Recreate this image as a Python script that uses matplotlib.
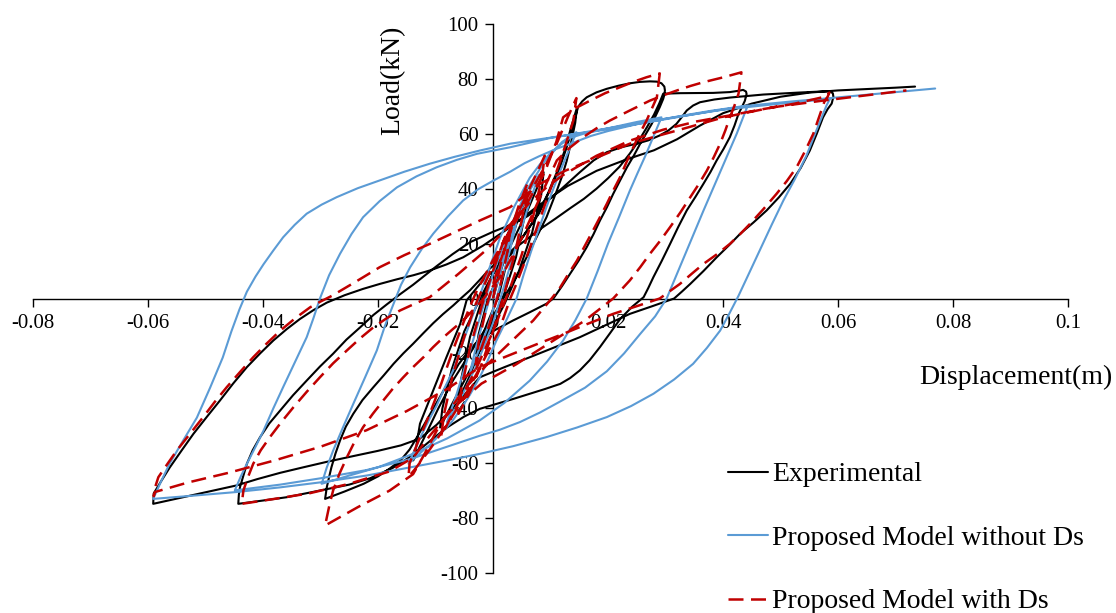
import matplotlib
matplotlib.use("Agg")
import matplotlib.pyplot as plt
import numpy as np

# ---------------- data (displacement m, load kN) ----------------
series_names = ["Experimental", "Proposed Model without Ds", "Proposed Model with Ds"]

experimental = [
    # small cycles
    (0.0, 0), (0.0015, 11), (0.003, 21), (0.0025, 14), (0.001, 1), (-0.001, -9), (-0.003, -20),
    (-0.0025, -13), (-0.001, -1), (0.001, 9), (0.003, 20), (0.0045, 30), (0.006, 38),
    (0.0055, 30), (0.004, 15), (0.002, 2), (0.0, -8), (-0.002, -17), (-0.004, -28), (-0.006, -37),
    (-0.0055, -29), (-0.004, -14), (-0.002, -1), (0.0, 9), (0.003, 19), (0.006, 32), (0.0088, 46),
    (0.0084, 38), (0.0068, 24), (0.0045, 10), (0.002, -2), (-0.001, -14), (-0.0045, -28),
    (-0.0075, -40), (-0.0092, -47), (-0.0088, -40), (-0.0072, -26), (-0.005, -12), (-0.002, 1),
    (0.0, 9),
    # cycle 0.0145
    (0.0035, 17), (0.0076, 30), (0.0095, 38), (0.0111, 46), (0.0124, 53.5), (0.0134, 61), (0.0146, 69.5),
    (0.0143, 64), (0.0136, 57), (0.0128, 50), (0.012, 44.5), (0.0111, 39.3), (0.0093, 29.6), (0.007, 19.9),
    (0.0047, 10.2), (0.0018, 0), (-0.001, -10), (-0.004, -20), (-0.007, -30), (-0.0095, -40),
    (-0.0118, -50), (-0.0139, -59),
    # reload to the 0.029 hump
    (-0.0136, -57), (-0.0127, -45.6), (-0.0104, -33.5), (-0.0081, -21.4), (-0.0057, -9.2), (-0.0046, -0.7),
    (-0.002, 6), (0.0005, 11), (0.004, 19), (0.008, 31), (0.0098, 39), (0.0115, 47), (0.0128, 55),
    (0.0138, 62), (0.0148, 69.8), (0.0155, 71.8), (0.0163, 73.3), (0.018, 75.1), (0.0198, 76.4),
    (0.0218, 77.5), (0.0238, 78.4), (0.0255, 78.9), (0.0273, 79.1), (0.0285, 79), (0.0293, 78.4),
    (0.0298, 77.2), (0.0299, 75.8), (0.0298, 74.2), (0.0296, 72.7), (0.029, 69.7),
    # unload from 0.029
    (0.0283, 66.6), (0.0276, 63.6), (0.0266, 60), (0.0256, 56.4), (0.0245, 52.1), (0.0233, 47.8),
    (0.0221, 43), (0.0209, 38.1), (0.0198, 33.2), (0.0186, 28.4), (0.0175, 23.5), (0.0163, 18.7),
    (0.0149, 13.8), (0.0134, 9), (0.012, 4.5), (0.0105, 0), (0.0093, -1.9), (0.0064, -5), (0.0035, -8),
    (0.0006, -11.2), (-0.0023, -14.7), (-0.0042, -19), (-0.006, -24), (-0.0075, -29.5), (-0.009, -35),
    (-0.0105, -40.5), (-0.012, -46), (-0.0133, -50.8), (-0.0145, -55), (-0.016, -58.8), (-0.018, -62),
    (-0.02, -64.8), (-0.0225, -67.5), (-0.0258, -70.3), (-0.0292, -73),
    # reload from -0.029 toward 0.044
    (-0.0289, -68.7), (-0.0285, -65), (-0.0281, -61.5), (-0.0274, -56.5), (-0.0266, -51.7),
    (-0.0256, -46.7), (-0.0243, -42), (-0.0227, -37), (-0.0208, -32.3), (-0.019, -28), (-0.0173, -23.8),
    (-0.0156, -20), (-0.0139, -16.5), (-0.0121, -12.6), (-0.0104, -9), (-0.0087, -5.7), (-0.0069, -2.5),
    (-0.0055, 0.2), (-0.004, 3), (-0.0022, 7), (-0.0005, 11), (0.003, 17), (0.0055, 21), (0.008, 25),
    (0.0108, 29), (0.0135, 33), (0.0158, 36.3), (0.018, 40), (0.02, 43.8), (0.022, 48), (0.0238, 52.8),
    (0.0255, 58), (0.0268, 62.5), (0.028, 67), (0.0289, 71), (0.0296, 74.6), (0.0325, 74.8),
    (0.0383, 74.9), (0.0412, 75.2), (0.0428, 75.7), (0.0435, 76), (0.044, 75.4), (0.0441, 74.5),
    (0.0438, 72),
    # unload from 0.044
    (0.0433, 69.8), (0.0427, 67.3), (0.042, 63), (0.0412, 58.8), (0.0401, 54.5), (0.0389, 50.3),
    (0.0378, 46), (0.0366, 41.8), (0.0352, 37), (0.0337, 32.1), (0.0322, 26), (0.0308, 19.9),
    (0.0293, 13.5), (0.0279, 7.8), (0.027, 3.8), (0.0262, 0.5), (0.0242, -3), (0.0221, -7.5),
    (0.0204, -12.5), (0.0186, -17.7), (0.0168, -22.5), (0.0151, -26.2), (0.0134, -29), (0.0117, -31.1),
    (0.009, -33), (0.0064, -34.7), (0.0035, -36.6), (0.0006, -38.4), (-0.0023, -40.2), (-0.005, -43),
    (-0.008, -47), (-0.011, -52), (-0.0139, -57), (-0.0175, -61.8), (-0.0214, -65.5), (-0.025, -67.8),
    (-0.029, -69.5), (-0.0325, -71), (-0.0359, -72.4), (-0.04, -73.6), (-0.0443, -74.8),
    # reload from -0.044 toward 0.059
    (-0.0442, -71.5), (-0.044, -68.7), (-0.0434, -64.5), (-0.0428, -60.2), (-0.0418, -55.3),
    (-0.0405, -50.5), (-0.0389, -45.5), (-0.037, -40.8), (-0.0348, -35.3), (-0.0324, -29.9),
    (-0.0301, -24.8), (-0.0278, -20.1), (-0.0255, -15), (-0.0231, -10.5), (-0.0208, -6), (-0.0185, -2.2),
    (-0.0162, 1.5), (-0.0139, 5), (-0.0118, 8.5), (-0.0098, 11.8), (-0.007, 16.2), (-0.004, 20.5),
    (0.0, 24.3), (0.0035, 27.2), (0.006, 30), (0.0082, 33.3), (0.0102, 36.8), (0.0122, 40.5),
    (0.0151, 46), (0.0175, 50.3), (0.0198, 53.3), (0.0225, 55.2), (0.025, 56.4), (0.027, 57.6),
    (0.029, 59.4), (0.0305, 61.2), (0.0319, 63.6), (0.0328, 66), (0.0337, 68.5), (0.0348, 70.3),
    (0.036, 71.5), (0.0385, 72.5), (0.0412, 73.2), (0.047, 74.3), (0.053, 75), (0.057, 75.4),
    (0.0585, 75.5), (0.0591, 74.8), (0.0592, 73.5), (0.0589, 71),
    # unload from 0.059
    (0.0582, 69), (0.0574, 66), (0.0563, 60), (0.0551, 53.9), (0.0535, 47.5), (0.0517, 41.8),
    (0.0497, 36.8), (0.0476, 32.1), (0.0453, 27.7), (0.043, 23.6), (0.041, 19.3), (0.0389, 15),
    (0.0366, 10), (0.0343, 5.3), (0.0329, 2.6), (0.0315, 0), (0.0277, -2.8), (0.0238, -5.6),
    (0.0195, -9.8), (0.0151, -14.1), (0.0108, -17.7), (0.0064, -21.4), (0.002, -25), (-0.0023, -28.7),
    (-0.0045, -34), (-0.007, -40), (-0.0098, -46), (-0.0127, -51), (-0.016, -53.5), (-0.02, -55.5),
    (-0.0245, -57.5), (-0.0289, -59.5), (-0.033, -61.5), (-0.037, -63.5), (-0.041, -65.8),
    (-0.0446, -68.1), (-0.0485, -69.9), (-0.052, -71.5), (-0.0557, -73.2), (-0.0591, -74.8),
    # final reload
    (-0.059, -71), (-0.0577, -66.5), (-0.0562, -61.5), (-0.0542, -55.5), (-0.0521, -49.3),
    (-0.0498, -43.2), (-0.0475, -37.2), (-0.0452, -31), (-0.0428, -25), (-0.0405, -20), (-0.0382, -15.3),
    (-0.0359, -11.2), (-0.0336, -7.5), (-0.0312, -4.2), (-0.0289, -1.5), (-0.0258, 1.2), (-0.0226, 3.5),
    (-0.0197, 5.3), (-0.0167, 7), (-0.0138, 8.5), (-0.011, 10.2), (-0.0081, 12.4), (-0.0052, 15),
    (-0.0017, 19.3), (0.003, 26), (0.008, 34), (0.013, 41), (0.018, 46.5), (0.023, 50.5), (0.028, 54),
    (0.032, 58), (0.036, 63), (0.04, 67.5), (0.045, 71), (0.05, 73.5), (0.055, 75), (0.06, 75.8),
    (0.065, 76.3), (0.07, 76.8), (0.0734, 77.2),
]

model_without_ds = [
    # small cycles
    (0.0, 0), (0.002, 15), (0.004, 27), (0.003, 18), (0.001, 3), (-0.001, -11), (-0.004, -27),
    (-0.003, -18), (-0.001, -3), (0.001, 11), (0.004, 28), (0.006, 38), (0.008, 45),
    (0.0065, 36), (0.004, 19), (0.002, 5), (0.0, -9), (-0.003, -25), (-0.006, -38), (-0.008, -45),
    (-0.0065, -36), (-0.004, -19), (-0.002, -5), (0.0, 9), (0.003, 26), (0.006, 40), (0.009, 50),
    (0.012, 57), (0.0145, 60.6),
    # unload 0.0145
    (0.0132, 54), (0.0118, 47), (0.0105, 40), (0.0093, 33.3), (0.008, 25.5), (0.0066, 17), (0.0053, 8.5),
    (0.0041, 0), (0.0023, -8), (0.0006, -15.3), (-0.0009, -22.5), (-0.0023, -28.7), (-0.004, -35),
    (-0.0055, -40), (-0.0072, -45), (-0.009, -49), (-0.0108, -53), (-0.0125, -56), (-0.0147, -60.2),
    # reload to 0.029
    (-0.0137, -55.5), (-0.0125, -50), (-0.0112, -44.5), (-0.0098, -39), (-0.0084, -32.5), (-0.0069, -26),
    (-0.0049, -14), (-0.0028, -2), (-0.0008, 10), (0.0012, 22), (0.0037, 33.5), (0.0064, 44),
    (0.0082, 49), (0.010, 53), (0.0117, 56), (0.0134, 58.5), (0.0165, 60.5), (0.02, 62), (0.025, 64.3),
    (0.0293, 66),
    # unload 0.029
    (0.0279, 59), (0.0265, 52), (0.0251, 45.5), (0.0238, 39.3), (0.0219, 29.5), (0.02, 20), (0.0182, 10),
    (0.0163, 0), (0.0143, -8), (0.0122, -15.3), (0.0094, -23), (0.0064, -29.9), (0.002, -38),
    (-0.0023, -44.4), (-0.008, -51), (-0.0144, -57), (-0.02, -61.5), (-0.025, -64.5), (-0.0298, -67.5),
    # reload to 0.044
    (-0.0289, -61.5), (-0.0278, -55.4), (-0.0261, -47), (-0.0243, -38.4), (-0.0222, -28.5),
    (-0.0202, -18.9), (-0.0188, -10), (-0.0173, -2), (-0.016, 5), (-0.0144, 11.4), (-0.0124, 18),
    (-0.0104, 23.6), (-0.0078, 30), (-0.0052, 35.7), (-0.0026, 39.8), (0.0001, 43), (0.003, 46.2),
    (0.0055, 49.3), (0.008, 51.8), (0.011, 54.5), (0.014, 56.8), (0.017, 59.2), (0.02, 61),
    (0.025, 63.5), (0.03, 65.5), (0.034, 67), (0.038, 68.4), (0.0443, 70.3),
    # unload 0.044
    (0.0424, 60.1), (0.0395, 46), (0.0366, 32), (0.0334, 16), (0.0302, 0), (0.0282, -6.5),
    (0.0256, -12.9), (0.0228, -20), (0.0198, -26.5), (0.016, -32.5), (0.0117, -37.5), (0.0082, -41.5),
    (0.0047, -45), (0.0012, -47.8), (-0.0023, -50), (-0.008, -54), (-0.0144, -58.5), (-0.022, -62.5),
    (-0.03, -65.5), (-0.037, -67.8), (-0.0449, -69.9),
    # reload to 0.059
    (-0.0439, -65), (-0.0428, -60.2), (-0.0413, -54), (-0.0399, -48.1), (-0.0382, -40), (-0.0365, -32.3),
    (-0.0344, -23), (-0.0324, -14.1), (-0.0312, -7), (-0.0301, 0), (-0.0285, 8.5), (-0.0266, 16.3),
    (-0.0246, 23.5), (-0.0226, 29.6), (-0.0197, 35.5), (-0.0167, 40.5), (-0.0133, 44.5),
    (-0.0098, 47.8), (-0.0063, 50.5), (-0.0028, 52.7), (0.003, 55.1), (0.01, 58.5), (0.02, 62),
    (0.03, 65.5), (0.04, 68.8), (0.05, 71), (0.0586, 72.7),
    # unload 0.059
    (0.058, 70.3), (0.0562, 61), (0.0545, 52), (0.0525, 43.5), (0.0505, 35.7), (0.0485, 27),
    (0.0465, 18), (0.0446, 9.5), (0.0427, 1), (0.0411, -5.5), (0.0395, -11.7), (0.0372, -18),
    (0.0348, -23.8), (0.0315, -29.5), (0.0279, -34.7), (0.024, -39.2), (0.0198, -43.2), (0.0146, -47),
    (0.0093, -50.5), (0.0035, -53.8), (-0.0023, -56.6), (-0.008, -59), (-0.0144, -61.5), (-0.022, -64.5),
    (-0.0301, -67), (-0.037, -68.8), (-0.0446, -70.5), (-0.052, -71.8), (-0.0591, -73),
    # final loading
    (-0.0577, -66.5), (-0.0562, -60), (-0.0539, -51.8), (-0.0515, -43.4), (-0.0492, -32.5),
    (-0.047, -21.5), (-0.0455, -12), (-0.0441, -4), (-0.0428, 2.5), (-0.0413, 8), (-0.0399, 12.5),
    (-0.0382, 17.5), (-0.0365, 22.3), (-0.0345, 26.8), (-0.0324, 30.9), (-0.0298, 34.2),
    (-0.0272, 36.9), (-0.0235, 40.2), (-0.0197, 43), (-0.0154, 46.2), (-0.011, 49.1), (-0.0067, 51.6),
    (-0.0023, 53.9), (0.003, 56.4), (0.01, 58.6), (0.0186, 61.2), (0.025, 63.5), (0.032, 66),
    (0.038, 68.2), (0.0447, 70.3), (0.052, 71.8), (0.0586, 73), (0.0769, 76.5),
]

model_with_ds = [
    # small cycles
    (0.0, 0), (0.0015, 14), (0.003, 25), (0.0025, 17), (0.001, 2), (-0.001, -12), (-0.003, -24),
    (-0.0025, -16), (-0.001, -2), (0.001, 12), (0.003, 24), (0.0045, 34), (0.006, 42),
    (0.0055, 34), (0.004, 18), (0.002, 2), (0.0, -12), (-0.002, -24), (-0.004, -34), (-0.006, -42),
    (-0.0055, -33), (-0.004, -18), (-0.002, -3), (0.0, 10), (0.002, 22), (0.005, 34), (0.009, 52),
    (0.0085, 44), (0.007, 30), (0.005, 16), (0.003, 4), (0.0, -12), (-0.003, -26), (-0.006, -38),
    (-0.009, -50), (-0.0085, -42), (-0.007, -28), (-0.005, -14), (-0.003, -2), (0.0, 12), (0.003, 25),
    (0.006, 37), (0.009, 48), (0.011, 56), (0.013, 66), (0.0145, 73),
    # unload 0.0145
    (0.014, 65), (0.012, 52), (0.01, 40), (0.008, 28), (0.006, 16), (0.004, 5), (0.003, 0),
    (0.001, -12), (-0.002, -24), (-0.005, -36), (-0.008, -46), (-0.011, -55), (-0.0135, -62),
    (-0.0147, -65),
    # reload to 0.029
    (-0.0145, -60), (-0.013, -52), (-0.011, -42), (-0.009, -31), (-0.007, -19), (-0.005, -8),
    (-0.003, 2), (0.0, 14), (0.003, 25), (0.006, 35), (0.009, 46), (0.011, 57), (0.0122, 66),
    (0.0145, 69.5), (0.0169, 72.1), (0.0195, 74.8), (0.0221, 77), (0.0245, 79), (0.0267, 80.6),
    (0.029, 82),
    # unload 0.029
    (0.0285, 73.3), (0.0276, 69), (0.0267, 64.8), (0.0255, 60), (0.0244, 55.1), (0.0232, 49.6),
    (0.0221, 44.2), (0.0209, 39.3), (0.0198, 34.5), (0.0186, 29.6), (0.0174, 24.8), (0.016, 19.3),
    (0.0146, 13.8), (0.0131, 8.9), (0.0117, 4.1), (0.0102, 0), (0.007, -8), (0.003, -16),
    (-0.001, -24), (-0.005, -33), (-0.009, -45), (-0.012, -57), (-0.0139, -64), (-0.018, -70),
    (-0.0235, -76), (-0.0292, -82.7),
    # reload to 0.044
    (-0.0289, -79.7), (-0.0284, -74.8), (-0.0278, -69.9), (-0.0267, -63.8), (-0.0254, -57.8),
    (-0.0241, -52.3), (-0.0226, -46.9), (-0.0209, -42), (-0.0191, -37.2), (-0.0174, -32.8),
    (-0.0156, -28.7), (-0.0139, -25), (-0.0121, -21.4), (-0.0104, -17.7), (-0.0086, -14.1),
    (-0.0069, -11), (-0.0052, -8), (-0.002, -1), (0.002, 10), (0.005, 22), (0.008, 36), (0.0111, 50.3),
    (0.0134, 55), (0.0157, 58.8), (0.018, 62), (0.0203, 64.8), (0.0238, 68.5), (0.0273, 72.1),
    (0.0296, 74), (0.032, 75.8), (0.0343, 77.4), (0.0366, 78.8), (0.0401, 80.6), (0.0432, 82.4),
    # unload 0.044
    (0.0427, 74.6), (0.042, 70.3), (0.0412, 66), (0.0404, 61.2), (0.0395, 56.4), (0.0384, 51.5),
    (0.0372, 46.6), (0.0358, 41.7), (0.0343, 36.9), (0.0326, 31.4), (0.0308, 26), (0.0291, 21.1),
    (0.0273, 16.3), (0.0256, 11.4), (0.0238, 6.6), (0.0209, 0), (0.016, -8), (0.01, -16), (0.004, -24),
    (-0.002, -31), (-0.007, -40), (-0.011, -50), (-0.0139, -58), (-0.018, -63), (-0.025, -67.5),
    (-0.032, -71), (-0.038, -73), (-0.0437, -74.8),
    # reload to 0.059
    (-0.0434, -69.9), (-0.0426, -65), (-0.0417, -60.2), (-0.0404, -55.3), (-0.0388, -50.5),
    (-0.0368, -45), (-0.0347, -39.6), (-0.0324, -34), (-0.0301, -28.7), (-0.0278, -23.6),
    (-0.0254, -18.9), (-0.0231, -14.5), (-0.0208, -10.5), (-0.0185, -7.2), (-0.0162, -4.4),
    (-0.0136, -1.9), (-0.011, 0.5), (-0.006, 9), (-0.001, 18), (0.003, 27), (0.0064, 35), (0.0093, 40.5),
    (0.0122, 45), (0.018, 52), (0.0238, 57.5), (0.0296, 61.5), (0.0354, 64.5), (0.0412, 66.7),
    (0.047, 69), (0.0525, 71), (0.0577, 73.5), (0.0585, 75),
    # unload 0.059
    (0.0582, 73.5), (0.0577, 72.1), (0.0567, 66), (0.0557, 60), (0.0543, 53.8), (0.0528, 47.8),
    (0.0511, 42.8), (0.0493, 38.1), (0.047, 32.5), (0.0447, 27.2), (0.043, 23.5), (0.0412, 19.9),
    (0.039, 16.2), (0.0366, 12.6), (0.0345, 8.9), (0.0325, 5.3), (0.0307, 2.6), (0.029, 0),
    (0.025, -2.8), (0.0209, -5.6), (0.0165, -9.2), (0.0122, -12.9), (0.0078, -16.5), (0.0035, -20.1),
    (-0.0023, -25), (-0.008, -33), (-0.015, -41), (-0.022, -48), (-0.03, -54), (-0.038, -59),
    (-0.046, -63.5), (-0.053, -67), (-0.0588, -70.5), (-0.059, -72),
    # final loading
    (-0.0588, -69), (-0.0582, -65.1), (-0.0566, -60.2), (-0.055, -55.4), (-0.0527, -49.3),
    (-0.0504, -43.2), (-0.0484, -37.7), (-0.0463, -32.3), (-0.044, -26.8), (-0.0417, -21.4),
    (-0.0394, -16.5), (-0.037, -11.7), (-0.0344, -7.2), (-0.0318, -3.2), (-0.0299, -1), (-0.028, 1),
    (-0.0238, 6.2), (-0.0197, 11.4), (-0.0154, 15.8), (-0.011, 19.9), (-0.0067, 24.1), (-0.0023, 28.4),
    (0.003, 33.3), (0.0082, 41.8), (0.0125, 46.5), (0.0169, 50.3), (0.0238, 56.4), (0.032, 61.2),
    (0.0401, 66), (0.0488, 69.7), (0.0574, 72.1), (0.0719, 75.8),
]

x_ticks = [-0.08, -0.06, -0.04, -0.02, 0.0, 0.02, 0.04, 0.06, 0.08, 0.1]
x_tick_labels = ["-0.08", "-0.06", "-0.04", "-0.02", "0", "0.02", "0.04", "0.06", "0.08", "0.1"]
y_ticks = [-100, -80, -60, -40, -20, 0, 20, 40, 60, 80, 100]
y_tick_labels = [str(v) for v in y_ticks]

# ---------------- figure ----------------
plt.rcParams["font.family"] = ["Liberation Serif", "DejaVu Serif"]

W, H = 1116, 613
fig = plt.figure(figsize=(W / 100, H / 100), dpi=100)
ax = fig.add_axes([33 / W, 40 / H, 1035 / W, 549 / H])

styles = [
    dict(color="black", lw=1.5, ls="-"),
    dict(color="#5B9BD5", lw=1.5, ls="-"),
    dict(color="#C00000", lw=1.8, ls=(0, (6, 3))),
]
handles = []
for name, pts, st in zip(series_names, [experimental, model_without_ds, model_with_ds], styles):
    arr = np.array(pts, dtype=float)
    h, = ax.plot(arr[:, 0], arr[:, 1], color=st["color"], lw=st["lw"], ls=st["ls"],
                 label=name, zorder=3, solid_joinstyle="round", solid_capstyle="round")
    handles.append(h)

ax.set_xlim(-0.08, 0.1)
ax.set_ylim(-100, 100)
for s in ["top", "right"]:
    ax.spines[s].set_visible(False)
ax.spines["left"].set_position(("data", 0))
ax.spines["bottom"].set_position(("data", 0))
for s in ["left", "bottom"]:
    ax.spines[s].set_color("black")
    ax.spines[s].set_linewidth(1.0)

ax.set_xticks(x_ticks)
ax.set_xticklabels(x_tick_labels)
ax.set_yticks(y_ticks)
ax.set_yticklabels(y_tick_labels)
ax.tick_params(axis="both", direction="out", length=5.5, width=1.0, labelsize=15, colors="black")
ax.tick_params(axis="x", pad=6)
ax.tick_params(axis="y", pad=5)

ax.set_ylabel("Load(kN)", fontsize=20)
ax.yaxis.set_label_coords((393 - 33) / 1035, (573 - 80) / 549)
ax.yaxis.label.set_va("center")
ax.set_xlabel("Displacement(m)", fontsize=20)
ax.xaxis.set_label_coords((1016 - 33) / 1035, (573 - 377) / 549)
ax.xaxis.label.set_va("center")

fig.legend(handles, series_names, loc="upper left", bbox_to_anchor=(728 / W, (H - 462) / H),
           frameon=False, fontsize=20, handlelength=1.44, handletextpad=0.14,
           labelspacing=1.37, borderpad=0, borderaxespad=0)

fig.savefig("out.png", dpi=100)
